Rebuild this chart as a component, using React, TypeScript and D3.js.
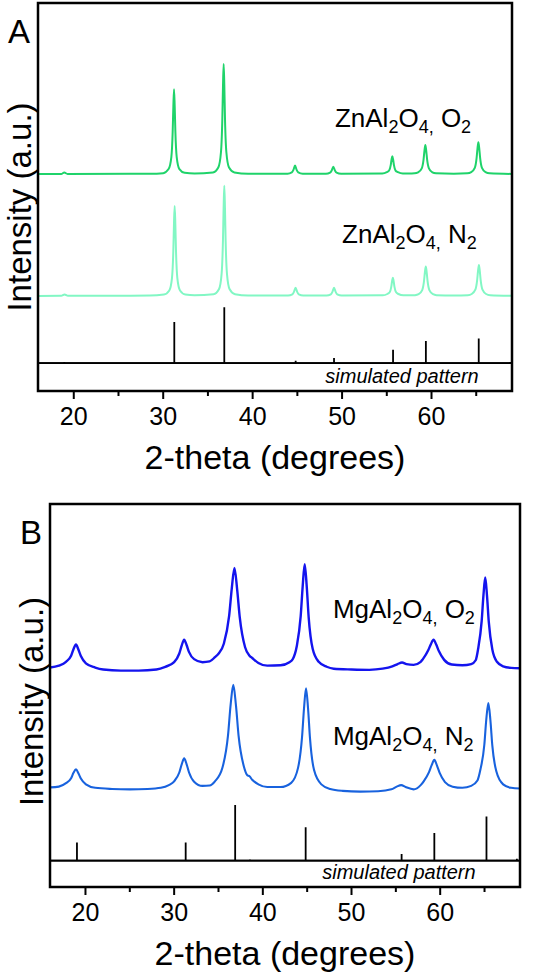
import { scaleLinear, line, curveMonotoneX } from 'd3';

type Pt = [number, number];

const X_DOMAIN: [number, number] = [16, 69];
const X_TICKS = [20, 30, 40, 50, 60];
const X_MINOR = [25, 35, 45, 55, 65];
const FONT = '"Liberation Sans", Arial, Helvetica, sans-serif';

// Panel A: ZnAl2O4. [2-theta, intensity above the trace's own baseline]
const ZN_O2: Pt[] = [
  [16, 0], [18.6, 0.05], [18.94, 0.4], [19.3, 0.05], [28.5, 0.1],
  [30.0, 0.25], [30.6, 1.3], [30.91, 4.4], [31.06, 11], [31.135, 17.5], [31.21, 21.9],
  [31.285, 17.5], [31.36, 11], [31.51, 4.4], [31.81, 1.3], [32.4, 0.33], [33.5, 0.15],
  [35.56, 0.43], [36.16, 1.7], [36.46, 5.7], [36.61, 14.2], [36.685, 22.7], [36.76, 28.4],
  [36.835, 22.7], [36.91, 14.2], [37.06, 5.7], [37.36, 1.7], [37.96, 0.43], [39.5, 0.12],
  [43.9, 0.1], [44.38, 0.44], [44.56, 1.1], [44.74, 2.2], [44.92, 1.1], [45.1, 0.44], [45.6, 0.1],
  [48.2, 0.08], [48.66, 0.38], [48.84, 0.95], [49.02, 1.9], [49.2, 0.95], [49.38, 0.38], [49.9, 0.08],
  [54.5, 0.15], [55.0, 0.5], [55.26, 0.92], [55.44, 2.3], [55.53, 3.7], [55.62, 4.6],
  [55.71, 3.7], [55.8, 2.3], [55.98, 0.92], [56.25, 0.5], [56.8, 0.15], [57.5, 0.15],
  [58.1, 0.2], [58.5, 0.45], [58.91, 1.5], [59.11, 3.75], [59.21, 6.0], [59.31, 7.5],
  [59.41, 6.0], [59.51, 3.75], [59.71, 1.5], [60.1, 0.45], [60.5, 0.2], [62.5, 0.1],
  [64.0, 0.2], [64.44, 0.5], [64.84, 1.6], [65.04, 4.1], [65.14, 6.6], [65.24, 8.2],
  [65.34, 6.6], [65.44, 4.1], [65.64, 1.6], [66.04, 0.5], [66.5, 0.2], [69, 0.05],
];

const ZN_N2: Pt[] = [
  [16, 0], [18.6, 0.05], [18.97, 0.4], [19.35, 0.05], [28.5, 0.1],
  [30.08, 0.35], [30.68, 1.4], [30.98, 4.6], [31.13, 11.6], [31.205, 18.6], [31.28, 23.2],
  [31.355, 18.6], [31.43, 11.6], [31.58, 4.6], [31.88, 1.4], [32.48, 0.35], [33.5, 0.15],
  [35.63, 0.43], [36.23, 1.7], [36.53, 5.7], [36.68, 14.2], [36.755, 22.7], [36.83, 28.4],
  [36.905, 22.7], [36.98, 14.2], [37.13, 5.7], [37.43, 1.7], [38.03, 0.43], [39.5, 0.12],
  [43.96, 0.1], [44.44, 0.42], [44.62, 1.05], [44.8, 2.1], [44.98, 1.05], [45.16, 0.42], [45.66, 0.1],
  [48.26, 0.1], [48.74, 0.42], [48.92, 1.05], [49.1, 2.1], [49.28, 1.05], [49.46, 0.42], [49.96, 0.1],
  [54.56, 0.15], [55.06, 0.5], [55.32, 0.94], [55.5, 2.35], [55.59, 3.76], [55.68, 4.7],
  [55.77, 3.76], [55.86, 2.35], [56.04, 0.94], [56.3, 0.5], [56.86, 0.15], [57.5, 0.15],
  [58.16, 0.2], [58.56, 0.45], [58.96, 1.5], [59.16, 3.8], [59.26, 6.1], [59.36, 7.6],
  [59.46, 6.1], [59.56, 3.8], [59.76, 1.5], [60.16, 0.45], [60.56, 0.2], [62.5, 0.1],
  [64.06, 0.2], [64.5, 0.5], [64.9, 1.6], [65.1, 4.0], [65.2, 6.4], [65.3, 8.0],
  [65.4, 6.4], [65.5, 4.0], [65.7, 1.6], [66.1, 0.5], [66.56, 0.2], [69, 0.05],
];

const ZN_SIM: Pt[] = [
  [18.94, 0.3], [31.24, 10.6], [36.83, 14.4], [44.81, 0.6], [49.1, 1.3],
  [55.7, 3.4], [59.37, 5.7], [65.28, 6.3], [68.8, 0.3],
];

// Panel B: MgAl2O4 (broader peaks, uneven background)
const MG_O2: Pt[] = [
  [16, 0.3], [17.0, 0.8], [17.8, 1.8], [18.38, 3.4], [18.65, 5.1], [18.93, 6.3], [19.2, 5.0],
  [19.48, 3.3], [20.05, 1.4], [21.1, 0.3], [22, -0.2], [24, -0.5], [26, -0.5], [28, -0.2],
  [29.0, 0.5], [30.0, 1.7], [30.57, 3.9], [30.85, 6.0], [31.12, 7.6], [31.4, 6.2], [31.67, 4.4],
  [32.25, 2.5], [33.2, 1.7], [34.0, 1.9], [34.6, 3.0], [35.0, 3.9], [35.6, 6.5], [36.2, 13.8],
  [36.5, 21.0], [36.8, 26.3], [37.1, 20.8], [37.4, 13.4], [38.0, 5.6], [38.5, 3.4], [38.8, 2.8],
  [39.5, 1.5], [40.5, 0.8], [42, 0.9], [43, 1.7], [43.4, 2.6], [43.82, 5.8], [44.27, 13.7],
  [44.5, 21.7], [44.72, 27.3], [44.95, 21.5], [45.17, 13.4], [45.62, 5.2], [46.3, 1.8],
  [47.2, 0.5], [48, 0], [50, -0.2], [52, -0.3], [53.5, 0], [54.6, 0.6], [55.2, 1.2],
  [55.7, 1.6], [56.2, 1.2], [57.0, 1.0], [57.8, 1.8], [58.05, 2.5], [58.65, 4.8], [58.95, 6.4],
  [59.25, 7.6], [59.55, 6.3], [59.85, 4.6], [60.45, 2.3], [61.3, 1.1], [62.5, 0.9], [63.5, 1.2],
  [64.0, 2.2], [64.28, 5.2], [64.68, 12.5], [64.88, 19.2], [65.08, 23.8], [65.28, 19.0],
  [65.48, 12.2], [65.88, 5.0], [66.4, 1.8], [67.1, 0.6], [68, 0.2], [69, 0.1],
];

const MG_N2: Pt[] = [
  [16, 0.4], [17, 0.6], [17.8, 1.5], [18.38, 2.8], [18.65, 4.2], [18.93, 5.1], [19.2, 4.1],
  [19.48, 2.7], [20.05, 1.2], [21.1, 0.3], [23, 0], [25, -0.1], [27, 0], [28.5, 0.3],
  [29.4, 1.0], [30.0, 2.0], [30.58, 4.3], [30.86, 6.5], [31.13, 8.0], [31.4, 6.5], [31.68, 4.3],
  [32.25, 1.9], [33.2, 0.8], [34.0, 0.9], [34.6, 2.0], [35.45, 5.6], [36.07, 13.9], [36.37, 22.0],
  [36.67, 27.2], [36.97, 21.8], [37.27, 13.8], [37.87, 5.8], [38.25, 3.6], [38.5, 3.3],
  [38.8, 2.4], [39.5, 1.2], [40.5, 0.5], [42, 0.5], [43.2, 1.6], [43.97, 5.5], [44.42, 13.5],
  [44.65, 21.2], [44.87, 26.3], [45.1, 21.0], [45.32, 13.2], [45.77, 5.0], [46.6, 1.2],
  [47.6, 0], [49, -0.5], [51, -0.7], [53, -0.6], [54.5, -0.1], [55.1, 0.6], [55.6, 1.0],
  [56.1, 0.5], [57.0, -0.1], [57.8, 1.0], [58.14, 2.0], [58.74, 4.4], [59.04, 6.2], [59.34, 7.6],
  [59.64, 6.1], [59.94, 4.2], [60.54, 1.8], [61.4, 0.6], [62.5, 0.3], [63.5, 0.8], [64.2, 2.2],
  [64.53, 5.0], [64.98, 11.6], [65.2, 18.2], [65.43, 22.4], [65.66, 18.0], [65.88, 11.3],
  [66.33, 4.6], [67.1, 1.2], [68, 0.3], [69, 0.1],
];

const MG_SIM: Pt[] = [
  [19.04, 4.7], [31.3, 4.7], [36.88, 14.5], [38.55, 0.3], [44.83, 8.7],
  [55.65, 1.7], [59.34, 7.2], [65.22, 11.5], [68.65, 0.5],
];

interface Trace { pts: Pt[]; offset: number; color: string; width: number }
interface Label { x: number; y: number; metal: string; gas: string }

interface PanelProps {
  letter: string;
  box: { x0: number; x1: number; y0: number; y1: number };
  yDomain: [number, number];
  traces: Trace[];
  sticks: Pt[];
  labels: Label[];
  simAt: Pt;
  yLabelShift: number;
}

function Formula({ l, sub }: { l: Label; sub: number }) {
  return (
    <>
      <tspan>{l.metal}Al</tspan>
      <tspan fontSize={sub} dy={6}>2</tspan>
      <tspan dy={-6}>O</tspan>
      <tspan fontSize={sub} dy={6}>4,</tspan>
      <tspan dy={-6}> {l.gas}</tspan>
      <tspan fontSize={sub} dy={6}>2</tspan>
    </>
  );
}

function Panel({ letter, box, yDomain, traces, sticks, labels, simAt, yLabelShift }: PanelProps) {
  const x = scaleLinear().domain(X_DOMAIN).range([box.x0, box.x1]);
  const y = scaleLinear().domain(yDomain).range([box.y1, box.y0]);
  const cx = (box.x0 + box.x1) / 2;
  const cy = (box.y0 + box.y1) / 2;

  const stickPath =
    `M${x(X_DOMAIN[0])},${y(0)}H${x(X_DOMAIN[1])}` +
    sticks.map(([t, h]) => `M${x(t)},${y(0)}V${y(h)}`).join('');

  return (
    <g fontFamily={FONT}>
      <defs>
        <clipPath id={`clip-${letter}`}>
          <rect x={box.x0} y={box.y0} width={box.x1 - box.x0} height={box.y1 - box.y0} />
        </clipPath>
      </defs>
      <g clipPath={`url(#clip-${letter})`}>
        {traces.map((tr, i) => {
          const gen = line<Pt>()
            .x((d) => x(d[0]))
            .y((d) => y(d[1] + tr.offset))
            .curve(curveMonotoneX);
          return (
            <path key={i} d={gen(tr.pts) ?? ''} fill="none" stroke={tr.color} strokeWidth={tr.width} strokeLinejoin="round" />
          );
        })}
        <path d={stickPath} fill="none" stroke="#000" strokeWidth={1.8} />
      </g>
      <rect x={box.x0} y={box.y0} width={box.x1 - box.x0} height={box.y1 - box.y0} fill="none" stroke="#000" strokeWidth={2.5} />
      {X_TICKS.map((t) => (
        <g key={t}>
          <line x1={x(t)} x2={x(t)} y1={box.y1} y2={box.y1 + 8} stroke="#000" strokeWidth={2} />
          <text x={x(t)} y={box.y1 + 34} textAnchor="middle" fontSize={25}>{t}</text>
        </g>
      ))}
      {X_MINOR.map((t) => (
        <line key={t} x1={x(t)} x2={x(t)} y1={box.y1} y2={box.y1 + 5} stroke="#000" strokeWidth={2} />
      ))}
      <text x={cx} y={box.y1 + 78} textAnchor="middle" fontSize={34}>2-theta (degrees)</text>
      <text
        transform={`translate(${box.x0 - 7},${cy + yLabelShift}) rotate(-90)`}
        textAnchor="middle"
        fontSize={33}
      >
        Intensity (a.u.)
      </text>
      <text x={box.x0 - 19} y={box.y0 + 40} textAnchor="middle" fontSize={33}>{letter}</text>
      {labels.map((l, i) => (
        <text key={i} x={x(l.x)} y={y(l.y)} fontSize={26}>
          <Formula l={l} sub={18} />
        </text>
      ))}
      <line x1={box.x0} x2={box.x1} y1={y(0)} y2={y(0)} stroke="#000" strokeWidth={1.8} />
      <text x={x(simAt[0])} y={y(simAt[1])} textAnchor="middle" fontSize={20} fontStyle="italic">
        simulated pattern
      </text>
    </g>
  );
}

export default function App() {
  return (
    <div style={{ position: 'absolute', left: 0, top: 0 }}>
      <svg width={533} height={973} style={{ display: 'block', background: '#fff' }}>
        <Panel
          letter="A"
          box={{ x0: 38, x1: 512, y0: 3, y1: 391 }}
          yDomain={[-7.2, 92.8]}
          traces={[
            { pts: ZN_O2, offset: 48.7, color: '#1fd36a', width: 2 },
            { pts: ZN_N2, offset: 17.3, color: '#82f7c4', width: 2 },
          ]}
          sticks={ZN_SIM}
          labels={[
            { x: 49.2, y: 60.8, metal: 'Zn', gas: 'O' },
            { x: 50.0, y: 30.9, metal: 'Zn', gas: 'N' },
          ]}
          simAt={[56.7, -5.2]}
          yLabelShift={10}
        />
        <Panel
          letter="B"
          box={{ x0: 50, x1: 520, y0: 504, y1: 887 }}
          yDomain={[-6.9, 93.1]}
          traces={[
            { pts: MG_O2, offset: 50.1, color: '#1414ee', width: 2.4 },
            { pts: MG_N2, offset: 18.7, color: '#1862de', width: 2.1 },
          ]}
          sticks={MG_SIM}
          labels={[
            { x: 47.9, y: 63.3, metal: 'Mg', gas: 'O' },
            { x: 47.9, y: 30.2, metal: 'Mg', gas: 'N' },
          ]}
          simAt={[55.35, -4.9]}
          yLabelShift={6}
        />
      </svg>
    </div>
  );
}
